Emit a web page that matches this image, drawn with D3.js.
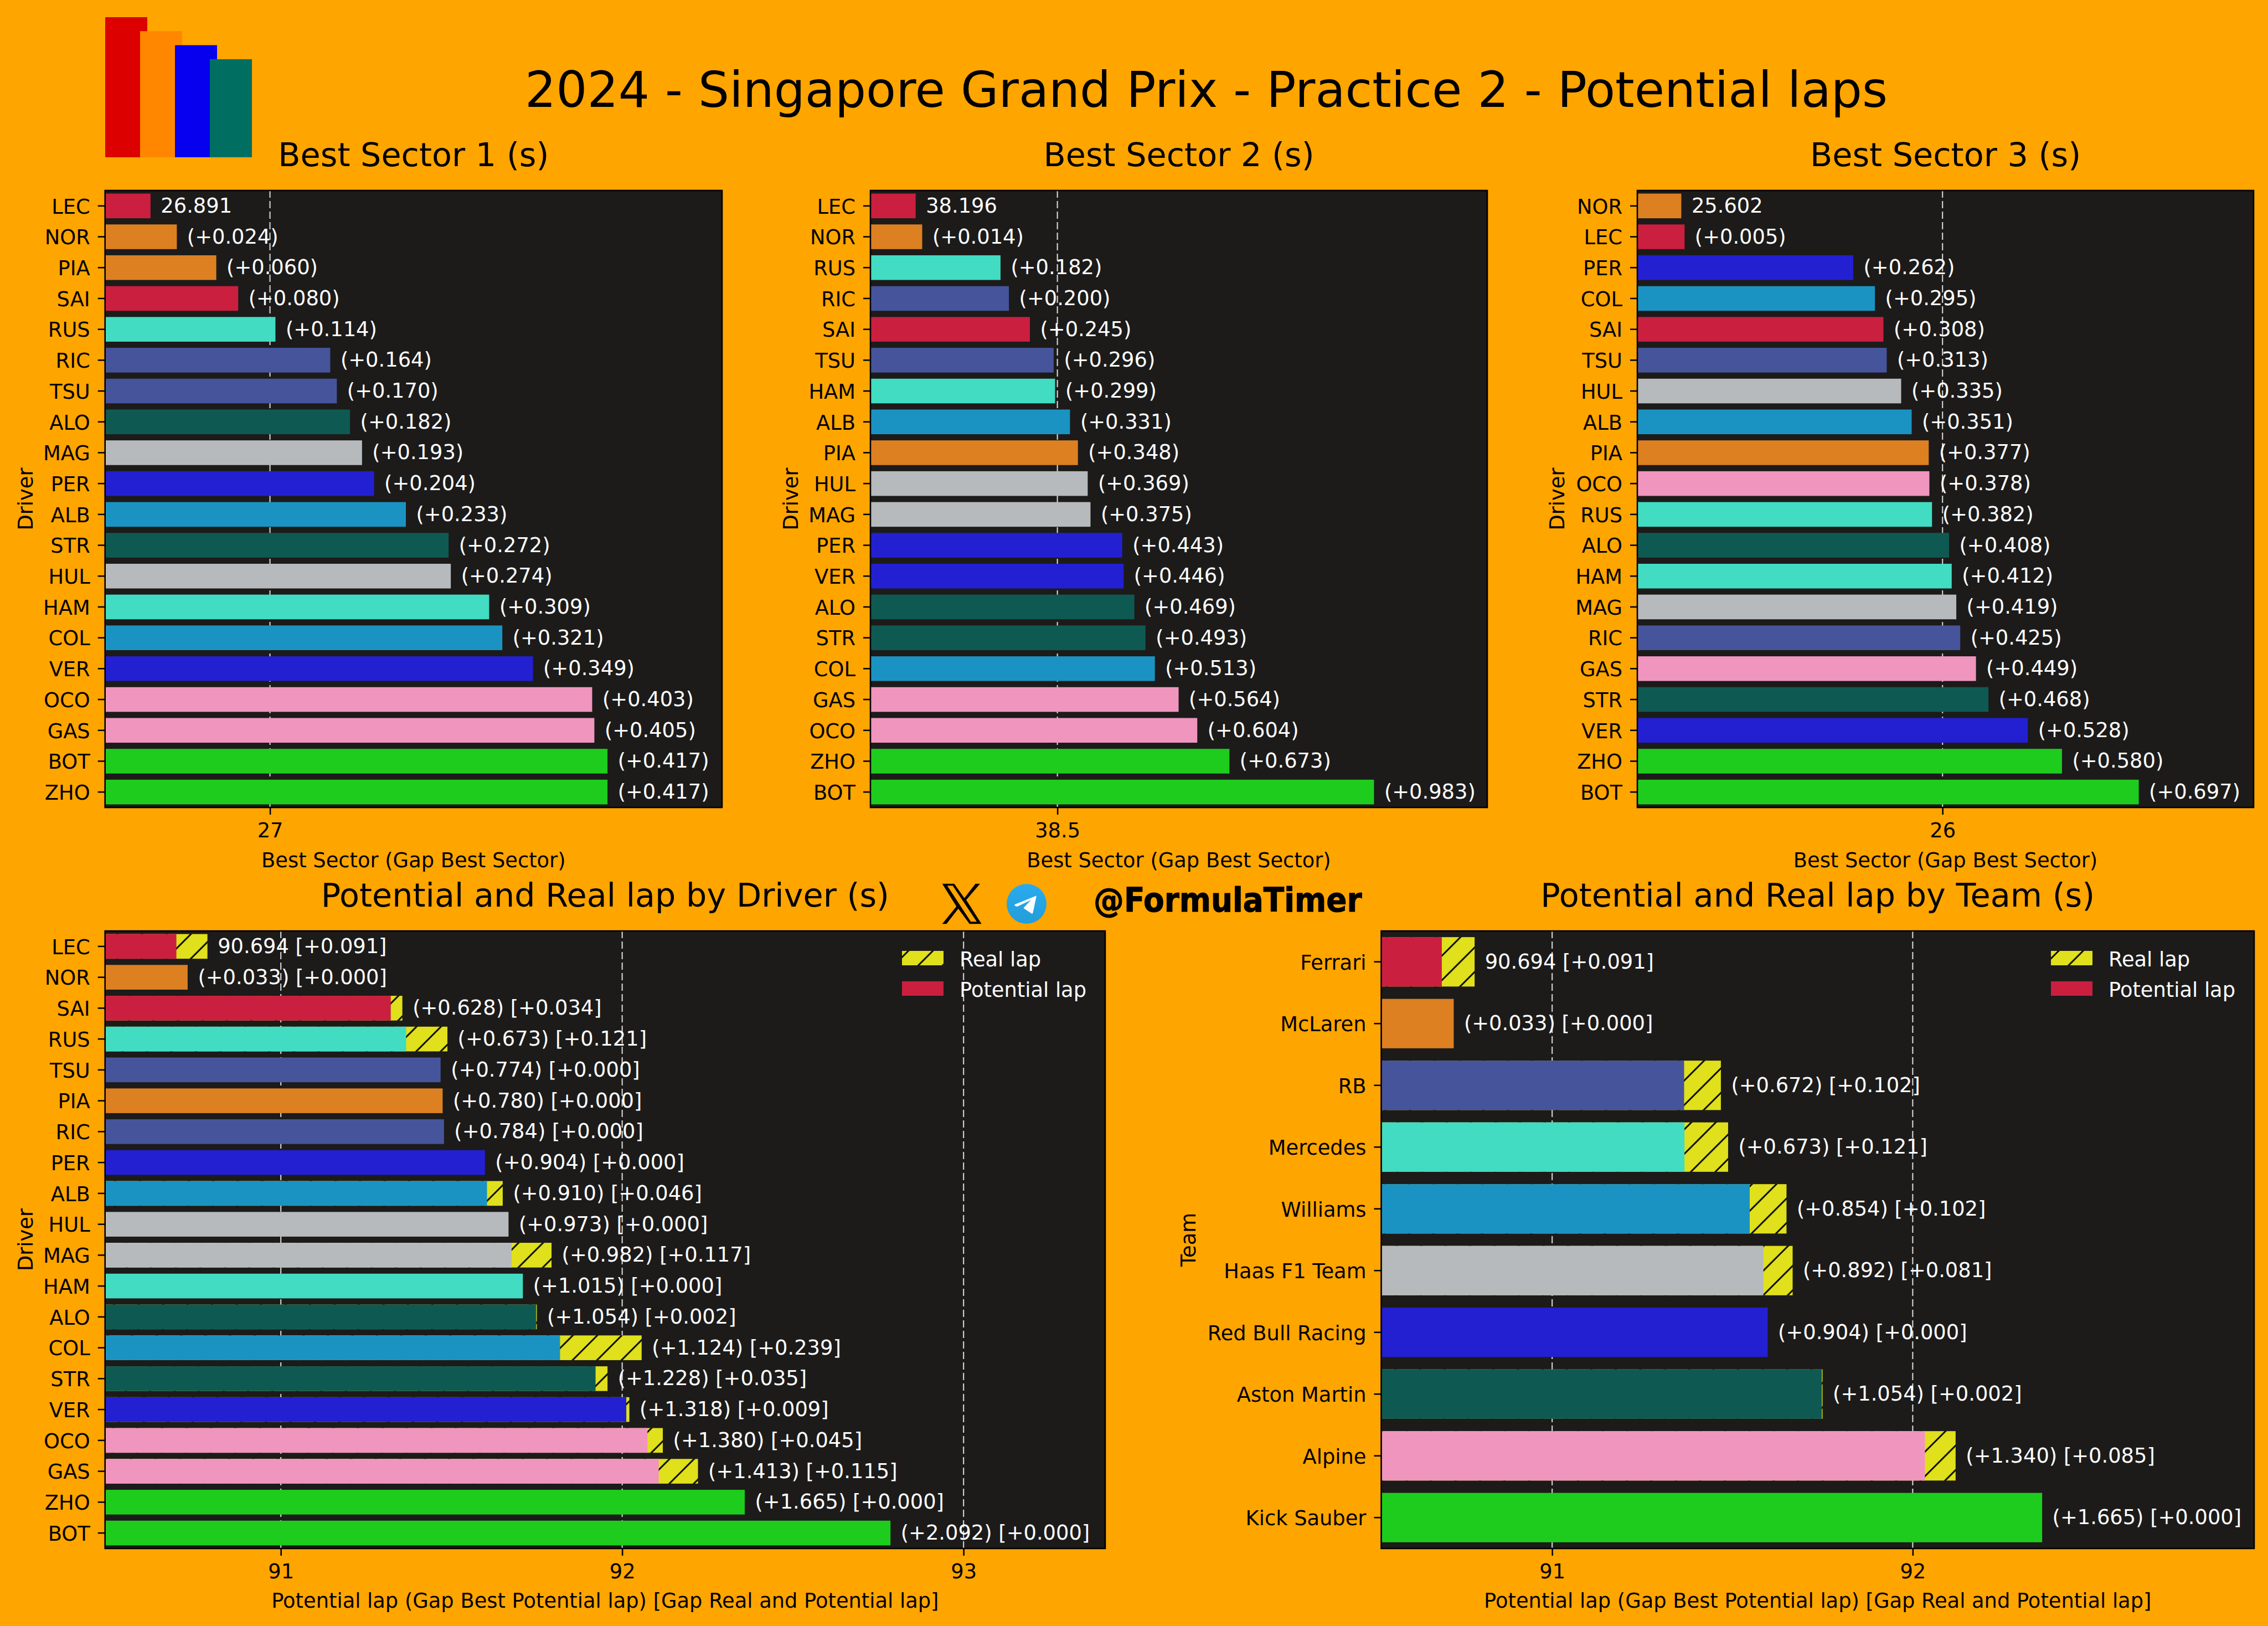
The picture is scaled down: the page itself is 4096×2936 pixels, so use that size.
<!DOCTYPE html>
<html>
<head>
<meta charset="utf-8">
<script src="https://cdn.jsdelivr.net/npm/d3@7"></script>
<style>
  html, body { margin: 0; padding: 0; background: #ffa500; }
  text { font-family: "DejaVu Sans", sans-serif; }
</style>
</head>
<body>
<svg id="chart" width="4096" height="2936"></svg>
<script>
// sector tables: first value is the best time, the rest are gaps to it
const s1Drivers = ["LEC","NOR","PIA","SAI","RUS","RIC","TSU","ALO","MAG","PER","ALB","STR","HUL","HAM","COL","VER","OCO","GAS","BOT","ZHO"];
const s1Gaps = [0,0.024,0.060,0.080,0.114,0.164,0.170,0.182,0.193,0.204,0.233,0.272,0.274,0.309,0.321,0.349,0.403,0.405,0.417,0.417];
const s1Best = 26.891;
const s2Drivers = ["LEC","NOR","RUS","RIC","SAI","TSU","HAM","ALB","PIA","HUL","MAG","PER","VER","ALO","STR","COL","GAS","OCO","ZHO","BOT"];
const s2Gaps = [0,0.014,0.182,0.200,0.245,0.296,0.299,0.331,0.348,0.369,0.375,0.443,0.446,0.469,0.493,0.513,0.564,0.604,0.673,0.983];
const s2Best = 38.196;
const s3Drivers = ["NOR","LEC","PER","COL","SAI","TSU","HUL","ALB","PIA","OCO","RUS","ALO","HAM","MAG","RIC","GAS","STR","VER","ZHO","BOT"];
const s3Gaps = [0,0.005,0.262,0.295,0.308,0.313,0.335,0.351,0.377,0.378,0.382,0.408,0.412,0.419,0.425,0.449,0.468,0.528,0.580,0.697];
const s3Best = 25.602;

// potential lap by driver / by team
const lapBest = 90.694;
const lapDrivers = ["LEC","NOR","SAI","RUS","TSU","PIA","RIC","PER","ALB","HUL","MAG","HAM","ALO","COL","STR","VER","OCO","GAS","ZHO","BOT"];
const lapGaps = [0,0.033,0.628,0.673,0.774,0.780,0.784,0.904,0.910,0.973,0.982,1.015,1.054,1.124,1.228,1.318,1.380,1.413,1.665,2.092];
const lapRealGaps = [0.091,0,0.034,0.121,0,0,0,0,0.046,0,0.117,0,0.002,0.239,0.035,0.009,0.045,0.115,0,0];
const teams = ["Ferrari","McLaren","RB","Mercedes","Williams","Haas F1 Team","Red Bull Racing","Aston Martin","Alpine","Kick Sauber"];
const teamGaps = [0,0.033,0.672,0.673,0.854,0.892,0.904,1.054,1.340,1.665];
const teamRealGaps = [0.091,0,0.102,0.121,0.102,0.081,0,0.002,0.085,0];

const teamColors = {
  "Ferrari": "#cb1f40", "McLaren": "#dd8022", "RB": "#46549b", "Mercedes": "#41dcc2",
  "Williams": "#1b93c2", "Haas F1 Team": "#b6babd", "Red Bull Racing": "#2320d2",
  "Aston Martin": "#0e5a52", "Alpine": "#f095be", "Kick Sauber": "#1ecc1e"
};
const driverTeam = {
  LEC: "Ferrari", SAI: "Ferrari", NOR: "McLaren", PIA: "McLaren", RIC: "RB", TSU: "RB",
  RUS: "Mercedes", HAM: "Mercedes", ALB: "Williams", COL: "Williams", MAG: "Haas F1 Team", HUL: "Haas F1 Team",
  VER: "Red Bull Racing", PER: "Red Bull Racing", ALO: "Aston Martin", STR: "Aston Martin",
  OCO: "Alpine", GAS: "Alpine", BOT: "Kick Sauber", ZHO: "Kick Sauber"
};

const logoValues = [1, 0.9, 0.8, 0.7];
const logoColors = ["#dc0000", "#ff8700", "#0600ef", "#006f62"];

const svg = d3.select("#chart");
const panelColor = "#1c1b1a";
const realColor = "#e0e01c";
const labelSize = 36.8;
const fmt = v => v.toFixed(3);

const defs = svg.append("defs");
// hatch for the real lap part of the bars
const hatchSize = 44.2;
const hatch = defs.append("pattern")
  .attr("id", "hatch")
  .attr("patternUnits", "userSpaceOnUse")
  .attr("patternTransform", "translate(-1.8,0)")
  .attr("width", hatchSize)
  .attr("height", hatchSize);
hatch.append("rect").attr("width", hatchSize).attr("height", hatchSize).attr("fill", realColor);
hatch.append("path")
  .attr("d", `M-4,4L4,-4M0,${hatchSize}L${hatchSize},0M${hatchSize - 4},${hatchSize + 4}L${hatchSize + 4},${hatchSize - 4}`)
  .attr("stroke", "black").attr("stroke-width", 2.8);

const tgGrad = defs.append("linearGradient")
  .attr("id", "tgGrad").attr("x1", 0).attr("y1", 0).attr("x2", 0).attr("y2", 1);
tgGrad.append("stop").attr("offset", 0).attr("stop-color", "#2aabee");
tgGrad.append("stop").attr("offset", 1).attr("stop-color", "#229ed9");

svg.append("rect").attr("width", 4096).attr("height", 2936).attr("fill", "#ffa500");

// logo
const logoX = d3.scaleLinear().domain([0, 4]).range([190, 442]);
const logoY = d3.scaleLinear().domain([0, 1]).range([284, 31]);
svg.append("g").selectAll("rect")
  .data(logoValues)
  .join("rect")
  .attr("x", (d, i) => logoX(i))
  .attr("y", d => logoY(d))
  .attr("width", 76)
  .attr("height", d => logoY(0) - logoY(d))
  .attr("fill", (d, i) => logoColors[i]);

svg.append("text")
  .attr("x", 2178.5).attr("y", 193)
  .attr("text-anchor", "middle")
  .attr("font-size", 88.4)
  .text("2024 - Singapore Grand Prix - Practice 2 - Potential laps");

function drawPanel(opt) {
  const { box, names, gaps, realGaps, best, domain, ticks, title, xLabel, yLabel, yLabelX, colorOf } = opt;
  const g = svg.append("g");
  const x = d3.scaleLinear().domain(domain).range([box.left, box.right]);
  const y = d3.scaleBand().domain(names).range([box.top, box.bottom]).paddingInner(0.2).paddingOuter(0.1);

  g.append("rect")
    .attr("x", box.left).attr("y", box.top)
    .attr("width", box.right - box.left).attr("height", box.bottom - box.top)
    .attr("fill", panelColor);

  // grid sits under the bars
  g.append("g").selectAll("line")
    .data(ticks)
    .join("line")
    .attr("x1", d => x(d)).attr("x2", d => x(d))
    .attr("y1", box.top).attr("y2", box.bottom)
    .attr("stroke", "#cfcfcf")
    .attr("stroke-width", 2.2)
    .attr("stroke-dasharray", "13,6");

  const rows = names.map((name, i) => ({
    name,
    pot: best + gaps[i],
    real: best + gaps[i] + (realGaps ? realGaps[i] : 0),
    gap: gaps[i],
    realGap: realGaps ? realGaps[i] : null
  }));

  if (realGaps) {
    g.append("g").selectAll("rect")
      .data(rows.filter(d => d.realGap > 0))
      .join("rect")
      .attr("x", box.left + 1)
      .attr("y", d => y(d.name))
      .attr("width", d => x(d.real) - box.left - 1)
      .attr("height", y.bandwidth())
      .attr("fill", "url(#hatch)");
  }

  g.append("g").selectAll("rect")
    .data(rows)
    .join("rect")
    .attr("x", box.left + 1)
    .attr("y", d => y(d.name))
    .attr("width", d => x(d.pot) - box.left - 1)
    .attr("height", y.bandwidth())
    .attr("fill", d => colorOf(d.name));

  g.append("g").selectAll("text")
    .data(rows)
    .join("text")
    .attr("x", d => x(d.real) + 18.5)
    .attr("y", d => y(d.name) + y.bandwidth() / 2 + 12)
    .attr("fill", "white")
    .attr("font-size", labelSize)
    .text(d => {
      let s = d.gap === 0 ? fmt(best) : `(+${fmt(d.gap)})`;
      if (realGaps) s += ` [+${fmt(d.realGap)}]`;
      return s;
    });

  g.append("rect")
    .attr("x", box.left).attr("y", box.top)
    .attr("width", box.right - box.left).attr("height", box.bottom - box.top)
    .attr("fill", "none")
    .attr("stroke", "black")
    .attr("stroke-width", 2.6);

  const xAxis = g.append("g")
    .attr("transform", `translate(0,${box.bottom})`)
    .call(d3.axisBottom(x).tickValues(ticks).tickFormat(d => String(d)).tickSize(13).tickPadding(15));
  const yAxis = g.append("g")
    .attr("transform", `translate(${box.left},0)`)
    .call(d3.axisLeft(y).tickSize(13).tickPadding(14));
  for (const a of [xAxis, yAxis]) {
    a.select(".domain").remove();
    a.selectAll("line").attr("stroke", "black").attr("stroke-width", 2.6);
    a.selectAll("text").attr("font-size", labelSize).attr("font-family", "DejaVu Sans").attr("fill", "black");
  }
  yAxis.selectAll("text").attr("dy", "0.375em");

  g.append("text")
    .attr("x", (box.left + box.right) / 2).attr("y", box.bottom + opt.xLabelOffset)
    .attr("text-anchor", "middle")
    .attr("font-size", labelSize)
    .text(xLabel);
  g.append("text")
    .attr("transform", `translate(${yLabelX},${(box.top + box.bottom) / 2}) rotate(-90)`)
    .attr("text-anchor", "middle")
    .attr("font-size", labelSize)
    .text(yLabel);
  g.append("text")
    .attr("x", (box.left + box.right) / 2).attr("y", box.top - 44)
    .attr("text-anchor", "middle")
    .attr("font-size", 58.8)
    .text(title);

  if (realGaps) {
    const lx = box.right - 367;
    const items = [
      { label: "Real lap", fill: "url(#hatch)", top: box.top + 36 },
      { label: "Potential lap", fill: teamColors.Ferrari, top: box.top + 91 }
    ];
    const leg = g.append("g").selectAll("g").data(items).join("g");
    leg.append("rect")
      .attr("x", lx).attr("y", d => d.top)
      .attr("width", 75).attr("height", 26)
      .attr("fill", d => d.fill);
    leg.append("text")
      .attr("x", lx + 104).attr("y", d => d.top + 28)
      .attr("fill", "white")
      .attr("font-size", labelSize)
      .text(d => d.label);
  }
}

const driverColor = name => teamColors[driverTeam[name]];

drawPanel({
  box: { left: 189.7, right: 1304, top: 344, bottom: 1458 },
  names: s1Drivers, gaps: s1Gaps, best: s1Best, domain: [26.8495, 27.4125], ticks: [27], xLabelOffset: 108,
  title: "Best Sector 1 (s)", xLabel: "Best Sector (Gap Best Sector)", yLabel: "Driver", yLabelX: 59, colorOf: driverColor
});
drawPanel({
  box: { left: 1572, right: 2686, top: 344, bottom: 1458 },
  names: s2Drivers, gaps: s2Gaps, best: s2Best, domain: [38.099, 39.422], ticks: [38.5], xLabelOffset: 108,
  title: "Best Sector 2 (s)", xLabel: "Best Sector (Gap Best Sector)", yLabel: "Driver", yLabelX: 1441, colorOf: driverColor
});
drawPanel({
  box: { left: 2957, right: 4070, top: 344, bottom: 1458 },
  names: s3Drivers, gaps: s3Gaps, best: s3Best, domain: [25.535, 26.474], ticks: [26], xLabelOffset: 108,
  title: "Best Sector 3 (s)", xLabel: "Best Sector (Gap Best Sector)", yLabel: "Driver", yLabelX: 2825, colorOf: driverColor
});
drawPanel({
  box: { left: 189.7, right: 1996, top: 1681, bottom: 2796 },
  names: lapDrivers, gaps: lapGaps, realGaps: lapRealGaps, best: lapBest, domain: [90.485, 93.415], ticks: [91, 92, 93], xLabelOffset: 107,
  title: "Potential and Real lap by Driver (s)", xLabel: "Potential lap (Gap Best Potential lap) [Gap Real and Potential lap]", yLabel: "Driver", yLabelX: 59, colorOf: driverColor
});
drawPanel({
  box: { left: 2494.5, right: 4071, top: 1681, bottom: 2796 },
  names: teams, gaps: teamGaps, realGaps: teamRealGaps, best: lapBest, domain: [90.526, 92.947], ticks: [91, 92], xLabelOffset: 107,
  title: "Potential and Real lap by Team (s)", xLabel: "Potential lap (Gap Best Potential lap) [Gap Real and Potential lap]", yLabel: "Team", yLabelX: 2159, colorOf: name => teamColors[name]
});

// social handles between the bottom panels
svg.append("path")
  .attr("transform", "translate(1680,1580) scale(0.3333)")
  .attr("fill-rule", "evenodd")
  .attr("d", "M65,47L130,47L185,125L245,47L270,47L195,135L278,265L213,265L152,182L88,265L65,265L142,170ZM92,58L122,58L252,253L220,253Z")
  .attr("fill", "black");
svg.append("circle").attr("cx", 1854).attr("cy", 1632).attr("r", 36).attr("fill", "url(#tgGrad)");
svg.append("path")
  .attr("transform", "translate(1854,1632)")
  .attr("d", "M16.7,-14.3L-21,1Q-23,2.5 -20,4L-17,5L7.7,-6.7L-5.7,7.7L9,17.5Q11,18.5 11.5,16L17.5,-12.5Q18,-15 16.7,-14.3Z")
  .attr("fill", "white");
svg.append("text")
  .attr("x", 1975).attr("y", 1646)
  .attr("font-size", 61)
  .attr("font-weight", "bold")
  .style("font-stretch", "condensed")
  .attr("stroke", "black")
  .attr("stroke-width", 1)
  .text("@FormulaTimer");
</script>
</body>
</html>
